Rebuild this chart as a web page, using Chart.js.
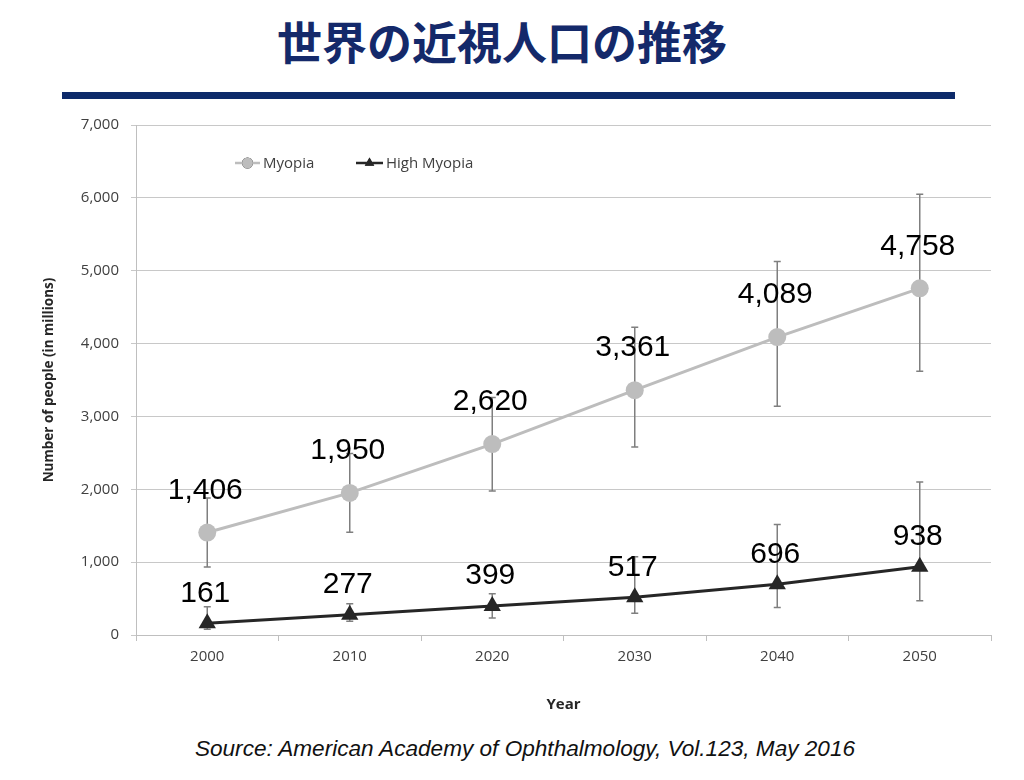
<!DOCTYPE html>
<html>
<head>
<meta charset="utf-8">
<script src="https://cdn.jsdelivr.net/npm/chart.js@4.4.1/dist/chart.umd.min.js"></script>
<style>
  body { margin: 0; width: 1024px; height: 780px; background: #fff; position: relative; overflow: hidden; }
  #title { position: absolute; left: 0; top: 16px; width: 1004px; text-align: center;
    font-family: "Noto Sans CJK JP"; font-weight: bold; font-size: 45px; line-height: 50px; color: #14296a; }
  #bar { position: absolute; left: 62px; top: 92px; width: 893px; height: 7px; background: #0d2a6a; }
  #wrap { position: absolute; left: 0; top: 104px; width: 1024px; height: 626px; }
  #source { position: absolute; left: 0; top: 736px; width: 1050px; text-align: center;
    font-family: "Liberation Sans", Arial, sans-serif; font-style: italic; font-size: 22.6px; color: #111; }
</style>
</head>
<body>
<div id="title">世界の近視人口の推移</div>
<div id="bar"></div>
<div id="wrap"><canvas id="myopiaChart"></canvas></div>
<div id="source">Source: American Academy of Ophthalmology, Vol.123, May 2016</div>

<script>
  // Data
  const years = ['2000', '2010', '2020', '2030', '2040', '2050'];
  const myopia = [1406, 1950, 2620, 3361, 4089, 4758];
  const myopiaLow = [932, 1411, 1977, 2579, 3141, 3621];
  const myopiaHigh = [1880, 2490, 3260, 4223, 5127, 6050];
  const highMyopia = [161, 277, 399, 517, 696, 938];
  const highMyopiaLow = [80, 190, 233, 297, 379, 470];
  const highMyopiaHigh = [388, 430, 565, 1073, 1516, 2100];
  const yTicks = [0, 1000, 2000, 3000, 4000, 5000, 6000, 7000];

  const tickFont = { family: '"Open Sans", sans-serif', size: 15 };

  // Error bars, drawn under the lines and markers
  const errorBars = {
    id: 'errorBars',
    beforeDatasetsDraw(chart) {
      const ctx = chart.ctx;
      const x = chart.scales.x;
      const y = chart.scales.y;
      const sets = [[myopiaLow, myopiaHigh], [highMyopiaLow, highMyopiaHigh]];
      ctx.save();
      ctx.strokeStyle = '#7f7f7f';
      ctx.lineWidth = 1.5;
      sets.forEach(([lo, hi]) => {
        years.forEach((yr, i) => {
          const px = x.getPixelForValue(i);
          const y1 = y.getPixelForValue(lo[i]);
          const y2 = y.getPixelForValue(hi[i]);
          ctx.beginPath();
          ctx.moveTo(px, y1); ctx.lineTo(px, y2);
          ctx.moveTo(px - 3.5, y1); ctx.lineTo(px + 3.5, y1);
          ctx.moveTo(px - 3.5, y2); ctx.lineTo(px + 3.5, y2);
          ctx.stroke();
        });
      });
      ctx.restore();
    },
    afterDatasetsDraw(chart) {
      // value labels above every point
      const ctx = chart.ctx;
      ctx.save();
      ctx.font = '30px "Liberation Sans", Arial, sans-serif';
      ctx.fillStyle = '#000';
      ctx.textAlign = 'center';
      ctx.textBaseline = 'middle';
      const offsets = [42, 30];
      chart.data.datasets.forEach((ds, d) => {
        chart.getDatasetMeta(d).data.forEach((pt, i) => {
          ctx.fillText(ds.data[i].toLocaleString('en-US'), pt.x - 2, pt.y - offsets[d]);
        });
      });

      // legend inside the plot area, Excel style
      const a = chart.chartArea;
      const ly = a.top + 38;
      ctx.font = '15px "Open Sans", sans-serif';
      ctx.textAlign = 'left';
      const items = [
        { x: a.left + 99, w: 25, ds: chart.data.datasets[0], text: 'Myopia' },
        { x: a.left + 220, w: 27, ds: chart.data.datasets[1], text: 'High Myopia' }
      ];
      items.forEach(it => {
        ctx.strokeStyle = it.ds.borderColor;
        ctx.lineWidth = 2.5;
        ctx.beginPath();
        ctx.moveTo(it.x, ly); ctx.lineTo(it.x + it.w, ly);
        ctx.stroke();
        Chart.helpers.drawPoint(ctx, {
          pointStyle: it.ds.pointStyle, radius: 5.5, borderWidth: 0, rotation: 0
        }, it.x + it.w / 2, ly);
        ctx.fillStyle = it.ds.borderColor;
        ctx.fill();
        ctx.fillStyle = '#404040';
        ctx.fillText(it.text, it.x + it.w + 3, ly + 1);
      });
      ctx.restore();
    }
  };

  function createChart() {
    const ctx = document.getElementById('myopiaChart').getContext('2d');
    new Chart(ctx, {
      type: 'line',
      data: {
        labels: years,
        datasets: [
          {
            label: 'Myopia',
            data: myopia,
            borderColor: '#bdbdbd',
            backgroundColor: '#bdbdbd',
            borderWidth: 3,
            pointStyle: 'circle',
            pointRadius: 9,
            pointBorderWidth: 0,
          },
          {
            label: 'High Myopia',
            data: highMyopia,
            borderColor: '#262626',
            backgroundColor: '#262626',
            borderWidth: 3,
            pointStyle: 'triangle',
            pointRadius: 10,
            pointBorderWidth: 0,
          },
        ],
      },
      options: {
        responsive: true,
        maintainAspectRatio: false,
        animation: false,
        layout: { padding: { top: 8, right: 33, left: 0, bottom: 0 } },
        plugins: {
          legend: { display: false },
          tooltip: { enabled: false },
        },
        scales: {
          x: {
            offset: true,
            grid: { offset: true, drawOnChartArea: false, tickLength: 6, color: '#bfbfbf' },
            border: { color: '#bfbfbf' },
            ticks: { font: tickFont, color: '#404040', padding: 7 },
            title: { display: true, text: 'Year', color: '#262626',
              font: { family: '"Open Sans", sans-serif', size: 15, weight: 'bold' },
              padding: { top: 0, bottom: 16 } },
            afterFit(scale) { scale.height = 95; },
          },
          y: {
            min: 0,
            max: 7000,
            afterBuildTicks(scale) { scale.ticks = yTicks.map(v => ({ value: v })); },
            grid: { color: '#c8c8c8', tickLength: 5 },
            border: { color: '#bfbfbf' },
            ticks: { font: tickFont, color: '#404040', padding: 12,
              callback: v => v.toLocaleString('en-US') },
            title: { display: true, text: 'Number of people (in millions)', color: '#262626',
              font: { family: '"Open Sans", sans-serif', size: 13.5, weight: 'bold' },
              padding: { top: 41, bottom: 0 } },
            afterFit(scale) { scale.width = 136; },
          },
        },
      },
      plugins: [errorBars],
    });
  }

  document.addEventListener('DOMContentLoaded', () => {
    createChart();
  });
</script>
</body>
</html>
